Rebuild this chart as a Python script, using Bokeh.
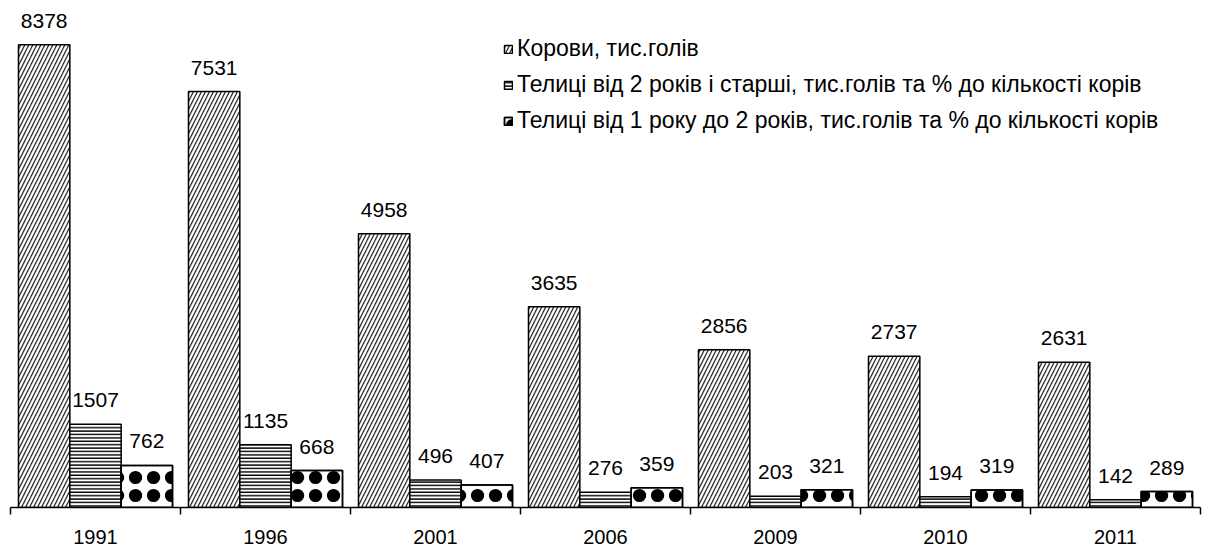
import numpy as np
from bokeh.plotting import figure
from bokeh.models import ColumnDataSource, LabelSet, FixedTicker, Range1d, Legend, LegendItem
from bokeh.core.properties import value
from bokeh.embed import file_html
from bokeh.resources import INLINE

years = ["1991", "1996", "2001", "2006", "2009", "2010", "2011"]
cows = [8378, 7531, 4958, 3635, 2856, 2737, 2631]
heifers_2plus = [1507, 1135, 496, 276, 203, 194, 142]
heifers_1to2 = [762, 668, 407, 359, 321, 319, 289]
series_names = [
    "Корови, тис.голів",
    "Телиці від 2 років і старші, тис.голів та % до кількості корів",
    "Телиці від 1 року до 2 років, тис.голів та % до кількості корів",
]

FONT = "Liberation Sans"
bw = 0.302
centers = np.arange(len(years)) + 0.5

p = figure(frame_width=1190, frame_height=497, output_backend="svg", toolbar_location=None,
           x_range=Range1d(0, len(years)), y_range=Range1d(0, 9000),
           min_border_left=10, min_border_right=10, min_border_top=10, min_border_bottom=30)
p.outline_line_color = None
p.xgrid.visible = False
p.ygrid.visible = False
p.yaxis.visible = False

styles = [
    dict(hatch_pattern="right_diagonal_line", hatch_scale=8, hatch_weight=1.3, hatch_color="#2a2a2a"),
    dict(hatch_pattern="horizontal_line", hatch_scale=3.4, hatch_weight=1.4, hatch_color="black"),
    dict(hatch_pattern="ring", hatch_scale=18, hatch_weight=4.2, hatch_color="black"),
]
offsets = [-bw, 0, bw]
items = []
for vals, off, st, name in zip([cows, heifers_2plus, heifers_1to2], offsets, styles, series_names):
    src = ColumnDataSource(dict(x=centers + off, top=vals, lab=[str(v) for v in vals]))
    r = p.vbar(x="x", top="top", width=bw, source=src, fill_color="white",
               line_color="black", line_width=1.5, **st)
    rs = [r]
    if st["hatch_pattern"] == "ring":
        # fill the ring centres so the marks read as solid blobs
        r2 = p.vbar(x="x", top="top", width=bw, source=src, fill_alpha=0,
                    line_color="black", line_width=1.5, hatch_pattern="dot",
                    hatch_scale=18, hatch_weight=1, hatch_color="black")
        rs.append(r2)
    items.append(LegendItem(label=name, renderers=rs))
    p.add_layout(LabelSet(x="x", y="top", text="lab", source=src, text_align="center",
                          text_baseline="alphabetic", y_offset=17,
                          text_font=value(FONT), text_font_size="21px", text_color="black"))

ax = p.xaxis[0]
ax.ticker = FixedTicker(ticks=list(centers), minor_ticks=list(range(len(years) + 1)))
ax.major_label_overrides = {float(c): y for c, y in zip(centers, years)}
ax.major_tick_out = 0
ax.major_tick_in = 0
ax.minor_tick_out = 7
ax.minor_tick_in = 0
ax.minor_tick_line_color = "black"
ax.minor_tick_line_width = 1.5
ax.axis_line_color = "black"
ax.axis_line_width = 1.5
ax.major_label_standoff = 15
ax.major_label_text_font = FONT
ax.major_label_text_font_size = "20px"
ax.major_label_text_color = "black"

legend = Legend(items=items,
                location=(493, 373), background_fill_alpha=0, border_line_color=None,
                label_text_font=FONT, label_text_font_size="23px", label_text_color="black",
                glyph_width=10, glyph_height=10, spacing=9, label_height=22,
                padding=0, margin=0, label_standoff=4)
p.add_layout(legend)

open("out.html", "w").write(file_html(p, INLINE))
